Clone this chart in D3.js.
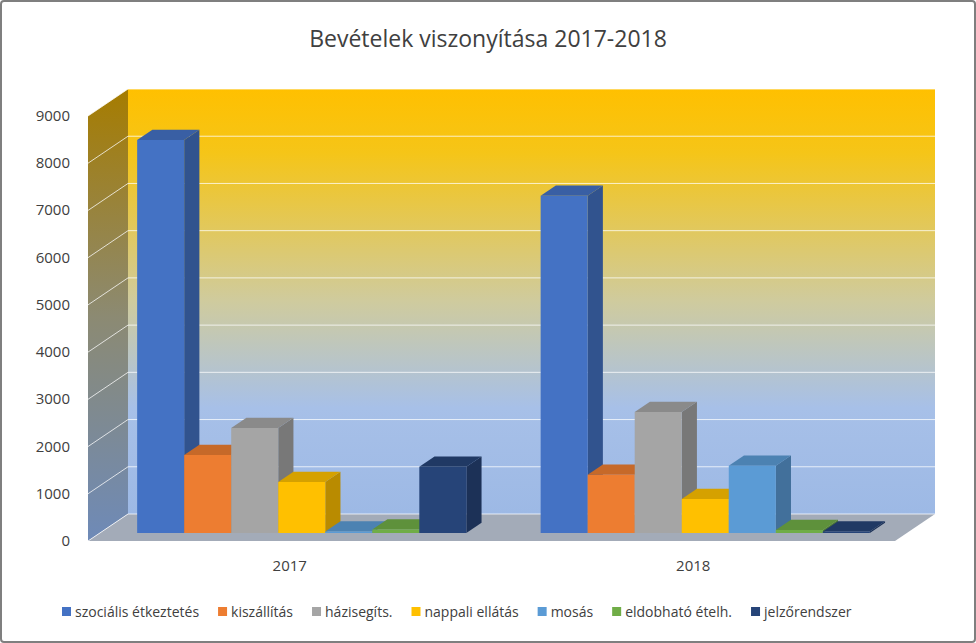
<!DOCTYPE html>
<html><head><meta charset="utf-8">
<script src="https://cdn.jsdelivr.net/npm/d3@7"></script>
<style>body{margin:0;background:#fff}</style></head>
<body><svg id="c" width="976" height="643"></svg>
<script>
const years = ["2017","2018"];
const seriesNames = ["szociális étkeztetés","kiszállítás","házisegíts.","nappali ellátás","mosás","eldobható ételh.","jelzőrendszer"];
const colors = ["#4472C4","#ED7D31","#A5A5A5","#FFC000","#5B9BD5","#70AD47","#264478"];
const values2017 = [8320,1650,2220,1080,30,70,1400];
const values2018 = [7140,1230,2560,720,1420,60,30];
const yTicks = [0,1000,2000,3000,4000,5000,6000,7000,8000,9000];
const data = [values2017, values2018];

const svg = d3.select("#c");
const font = "'Open Sans', 'Liberation Sans', sans-serif";
svg.append("rect").attr("x",1).attr("y",1).attr("width",974).attr("height",641).attr("fill","#fff").attr("stroke","#7f7f7f").attr("stroke-width",2).attr("rx",3);

const DX=40, DY=-27;
const x = d3.scaleBand().domain(years).range([88,895]);
const xi = d3.scaleBand().domain(seriesNames).range([0,x.bandwidth()]).paddingOuter(0.79).paddingInner(0);
const y = d3.scaleLinear().domain([0,9000]).range([541,116]);
const P = (px,py,d)=>[px+DX*d, py+DY*d];
const poly = pts => "M"+pts.map(p=>p.join(",")).join("L")+"Z";

const defs = svg.append("defs");
const g1 = defs.append("linearGradient").attr("id","wall").attr("x1",0).attr("y1",0).attr("x2",0).attr("y2",1);
[["0%","#FFC000"],["15%","#F5C518"],["50%","#CFCB9E"],["75%","#A7C0E8"],["100%","#9DB9E5"]].forEach(s=>g1.append("stop").attr("offset",s[0]).attr("stop-color",s[1]));
const g2 = defs.append("linearGradient").attr("id","side").attr("x1",0).attr("y1",0).attr("x2",0).attr("y2",1);
[["0%","#A67C00"],["50%","#8C8A72"],["100%","#6E8AB8"]].forEach(s=>g2.append("stop").attr("offset",s[0]).attr("stop-color",s[1]));

svg.append("path").attr("d",poly([P(88,y(9000),1),P(895,y(9000),1),P(895,y(0),1),P(88,y(0),1)])).attr("fill","url(#wall)");
svg.append("path").attr("d",poly([P(88,y(9000),0),P(88,y(9000),1),P(88,y(0),1),P(88,y(0),0)])).attr("fill","url(#side)");
svg.append("path").attr("d",poly([P(88,y(0),0),P(88,y(0),1),P(895,y(0),1),P(895,y(0),0)])).attr("fill","#A3ABB8");
yTicks.forEach(v=>{
  const a=P(88,y(v),0), b=P(88,y(v),1), c=P(895,y(v),1);
  svg.append("path").attr("d",`M${a}L${b}L${c}`).attr("fill","none").attr("stroke","#fff").attr("stroke-opacity",0.75).attr("stroke-width",1);
});
svg.append("g").selectAll("text").data(yTicks).join("text")
  .attr("x",70).attr("y",d=>y(d)+5).attr("text-anchor","end").attr("font-family",font).attr("font-size",15).attr("fill","#404040").text(d=>d);

const d1=0.3, d2=0.68;
const shade=(c,k)=>d3.color(c).darker(k).formatHex();
years.forEach((yr,yi)=>{
  seriesNames.forEach((s,si)=>{
    const v=data[yi][si], x0=x(yr)+xi(s), x1=x0+xi.bandwidth(), yt=y(v), yb=y(0), c=colors[si];
    const g=svg.append("g");
    g.append("path").attr("d",poly([P(x1,yt,d1),P(x1,yt,d2),P(x1,yb,d2),P(x1,yb,d1)])).attr("fill",shade(c,0.9));
    g.append("path").attr("d",poly([P(x0,yt,d1),P(x0,yt,d2),P(x1,yt,d2),P(x1,yt,d1)])).attr("fill",shade(c,0.5));
    g.append("path").attr("d",poly([P(x0,yt,d1),P(x1,yt,d1),P(x1,yb,d1),P(x0,yb,d1)])).attr("fill",c);
  });
});
svg.append("g").selectAll("text").data(years).join("text")
  .attr("x",d=>x(d)+x.bandwidth()/2).attr("y",571).attr("text-anchor","middle").attr("font-family",font).attr("font-size",15).attr("fill","#404040").text(d=>d);
svg.append("text").attr("x",488).attr("y",47).attr("text-anchor","middle").attr("font-family",font).attr("font-size",23).attr("fill","#404040").text("Bevételek viszonyítása 2017-2018");
const lg=svg.append("g").attr("font-family",font).attr("font-size",14).attr("fill","#404040");
let lx=62; const ly=612;
seriesNames.forEach((s,i)=>{
  lg.append("rect").attr("x",lx).attr("y",ly-5).attr("width",9).attr("height",9).attr("fill",colors[i]);
  const t=lg.append("text").attr("x",lx+13).attr("y",ly+5).text(s);
  lx+=13+t.node().getComputedTextLength()+19;
});
</script></body></html>
